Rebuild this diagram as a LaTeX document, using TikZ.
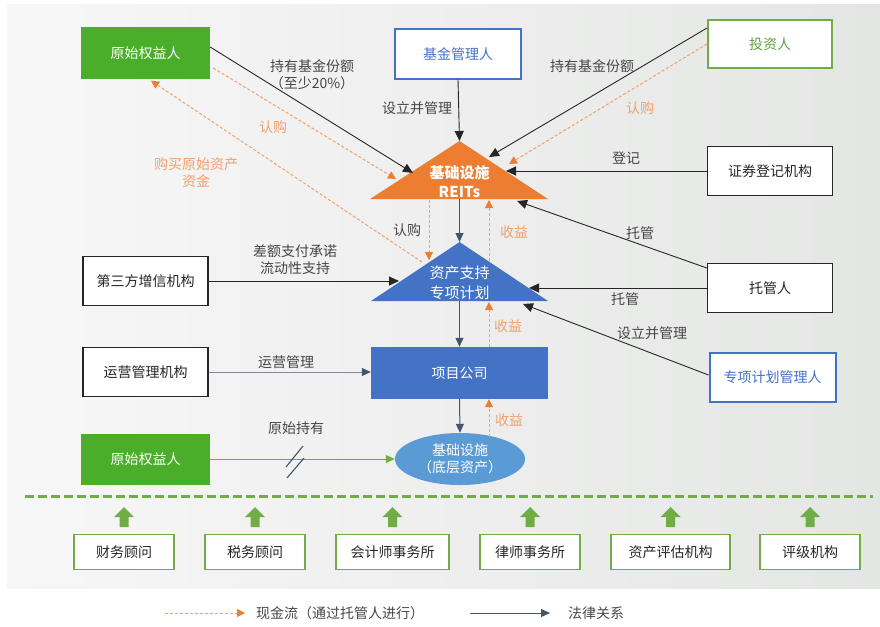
\documentclass[tikz,border=0pt]{standalone}
\usepackage{fontspec}
\setmainfont{Noto Sans CJK SC}
\usetikzlibrary{arrows.meta,calc,shapes.geometric}
\definecolor{gfill}{RGB}{74,174,43}
\definecolor{gline}{RGB}{112,173,71}
\definecolor{gtext}{RGB}{96,160,60}
\definecolor{bblue}{RGB}{68,114,196}
\definecolor{orng}{RGB}{237,125,49}
\definecolor{lorng}{RGB}{242,160,110}
\definecolor{ellc}{RGB}{91,155,213}
\definecolor{slate}{RGB}{68,84,106}
\definecolor{lslate}{RGB}{120,140,168}
\definecolor{txt}{RGB}{70,70,70}
\definecolor{dline}{RGB}{38,38,38}
\definecolor{bgl}{RGB}{247,247,247}
\definecolor{bgr}{RGB}{228,230,228}
\begin{document}
\begin{tikzpicture}[x=1pt,y=-1pt,
  every node/.style={font=\fontsize{14}{17}\selectfont, inner sep=0pt, align=center},
  box/.style={draw=dline, line width=1.3pt, fill=white, minimum width=125pt, minimum height=49pt, text=dline},
  gbox/.style={fill=gfill, minimum width=129pt, minimum height=51pt, text=white},
  bbox/.style={draw=bblue, line width=2pt, fill=white, minimum width=126pt, minimum height=49pt, text=bblue},
  ibox/.style={draw=gline, line width=2pt, fill=white, minimum width=124pt, minimum height=48pt, text=gtext},
  sbox/.style={draw=gline, line width=1.5pt, fill=white, minimum height=35pt, text=dline},
  lbl/.style={text=txt},
  olbl/.style={text=lorng},
  legal/.style={draw=dline, line width=0.9pt, -{Triangle[length=10pt,width=9pt]}},
  slateln/.style={draw=slate, line width=1pt, -{Triangle[length=9pt,width=8pt]}},
  opsln/.style={draw=lslate, line width=1pt, -{Triangle[length=9pt,width=8pt,color=slate]}},
  greenln/.style={draw=gline, line width=1pt, -{Triangle[length=9pt,width=8pt]}},
  cash/.style={draw=lorng, dash pattern=on 3pt off 2pt, line width=1pt, -{Triangle[length=8pt,width=8pt,color=orng]}},
]
\useasboundingbox (0,0) rectangle (880,626);
\shade[left color=bgl, right color=bgr] (7,5) rectangle (880,588);

% triangles
\fill[orng] (459.5,141) -- (548,199) -- (370,199) -- cycle;
\fill[bblue] (459.5,242) -- (548,301) -- (371,301) -- cycle;
\node[text=white, font=\bfseries\fontsize{15}{19}\selectfont] (reits) at (459.5,182) {基础设施\\REITs};
\node[text=white, font=\fontsize{15}{20}\selectfont] (spv) at (459.5,283) {资产支持\\专项计划};

% coordinates on triangles
\coordinate (rA) at (459.5,141);
\coordinate (rB) at (459.5,199);
\coordinate (rL1) at (413,173);
\coordinate (rL2) at (396,179);
\coordinate (rR1) at (489,157);
\coordinate (rR2) at (509,164);
\coordinate (rR3) at (506,171);
\coordinate (rR4) at (517,201);
\coordinate (rBL) at (429,200);
\coordinate (rBO) at (489,200);
\coordinate (sA) at (459.5,242);
\coordinate (sB) at (459.5,301);
\coordinate (sL) at (422,262);
\coordinate (sL2) at (399,281);
\coordinate (sN) at (429,260);
\coordinate (sO) at (489,261);
\coordinate (sQ) at (489,302);
\coordinate (sR1) at (529,288);
\coordinate (sR2) at (523,304);

% boxes
\node[gbox] (oe1) at (145.5,53) {原始权益人};
\node[bbox] (fm) at (458,54) {基金管理人};
\node[ibox] (inv) at (770,44) {投资人};
\node[box] (csd) at (770,171) {证券登记机构};
\node[box] (third) at (145.5,281) {第三方增信机构};
\node[box] (ops) at (145.5,372) {运营管理机构};
\node[gbox] (oe2) at (145.5,459) {原始权益人};
\node[box] (cust) at (770,288) {托管人};
\node[bbox] (spm) at (772.5,377) {专项计划管理人};
\node[fill=bblue, minimum width=177pt, minimum height=52pt, text=white] (pc) at (459.5,373) {项目公司};
\node[ellipse, fill=ellc, minimum width=130pt, minimum height=52pt, text=white] (ast) at (460,459) {基础设施\\（底层资产）};
\coordinate (aQ) at (489,437);

% legal relations
\draw[legal] ($(oe1.east)+(0,-6)$) -- (rL1);
\draw[legal] (fm.south) -- (rA);
\draw[legal] ($(inv.west)+(0,-16)$) -- (rR1);
\draw[legal] (csd.west) -- (rR3);
\draw[legal] ($(cust.west)+(0,-20)$) -- (rR4);
\draw[legal] (cust.west) -- (sR1);
\draw[legal] ($(spm.west)+(0,-2)$) -- (sR2);
\draw[legal] (third.east) -- (sL2);
\draw[opsln] (ops.east) -- (pc.west |- ops.east);
\draw[slateln] (rB) -- (sA);
\draw[slateln] (sB) -- (pc.north);
\draw[slateln] (pc.south) -- (ast.north);
\draw[greenln] (oe2.east) -- (ast.west);
\draw[slate, line width=1.1pt] (286,467) -- (303,446) (287,478) -- (304,458);

% cash flows
\draw[cash] ($(oe1.east)+(3,15)$) -- (rL2);
\draw[cash] (sL) -- ($(oe1.south)+(5.5,2)$);
\draw[cash] ($(inv.west)+(0,0)$) -- (rR2);
\draw[cash] (rBL) -- (sN);
\draw[cash] (sO) -- (rBO);
\draw[cash] ($(pc.north)+(29.5,0)$) -- (sQ);
\draw[cash] (aQ) -- (aQ |- pc.south);

% labels
\node[lbl] (t1) at (312,75) {持有基金份额\\（至少20\%）};
\node[olbl] (t2) at (273,127) {认购};
\node[olbl] (t3) at (196,173) {购买原始资产\\资金};
\node[lbl] (t4) at (417,108) {设立并管理};
\node[lbl] (t5) at (592,66) {持有基金份额};
\node[olbl] (t6) at (640,108) {认购};
\node[lbl] (t7) at (626,158) {登记};
\node[lbl] (t8) at (640,233) {托管};
\node[lbl] (t9) at (625,299) {托管};
\node[lbl] (t10) at (652,333) {设立并管理};
\node[lbl] (t11) at (295,260) {差额支付承诺\\流动性支持};
\node[lbl] (t12) at (286,362) {运营管理};
\node[lbl] (t13) at (407,230) {认购};
\node[olbl] (t14) at (514,232) {收益};
\node[olbl] (t15) at (508,326) {收益};
\node[olbl] (t16) at (509,420) {收益};
\node[lbl] (t17) at (296,428) {原始持有};

% separator
\draw[gline, line width=3pt, dash pattern=on 9pt off 4pt] (25,496) -- (873,496);

% service providers
\foreach \cx/\w/\name/\lab in {124/100/p1/财务顾问, 255/100/p2/税务顾问, 392.5/113/p3/会计师事务所, 530/100/p4/律师事务所, 670.5/119/p5/资产评估机构, 810/100/p6/评级机构}{
  \node[sbox, minimum width=\w pt] (\name) at (\cx,552) {\lab};
  \fill[gline] (\cx-4.5,527) -- (\cx-4.5,517) -- (\cx-10,517) -- (\cx,507) -- (\cx+10,517) -- (\cx+4.5,517) -- (\cx+4.5,527) -- cycle;
}

% legend
\coordinate (lg1s) at (165,613);
\coordinate (lg1e) at (245,613);
\coordinate (lg2s) at (470,613);
\coordinate (lg2e) at (550,613);
\draw[cash] (lg1s) -- (lg1e);
\draw[slateln] (lg2s) -- (lg2e);
\node[lbl, anchor=west] (lt1) at (256,613) {现金流（通过托管人进行）};
\node[lbl, anchor=west] (lt2) at (568,613) {法律关系};
\end{tikzpicture}
\end{document}
